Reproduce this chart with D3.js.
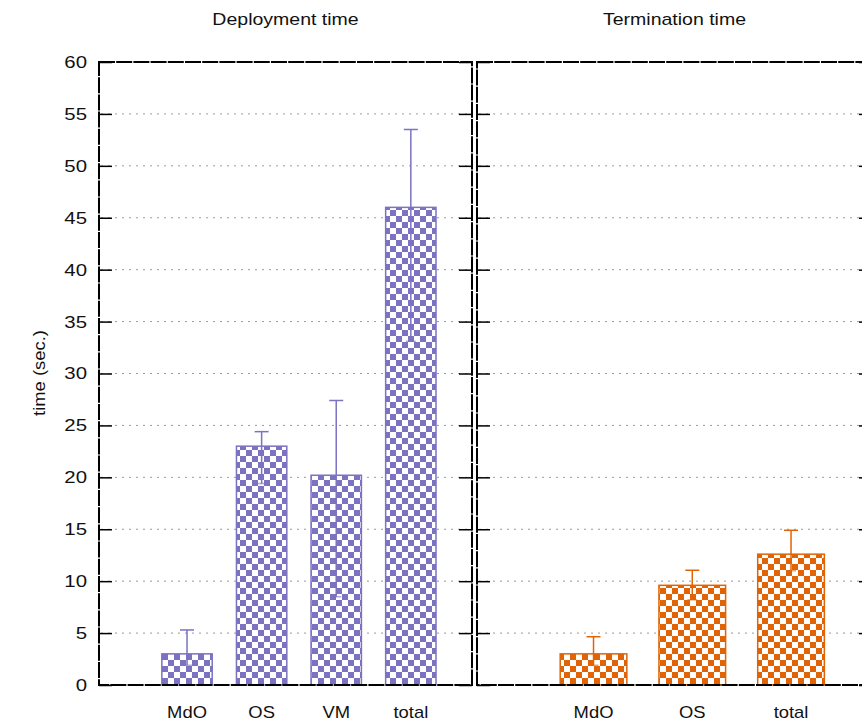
<!DOCTYPE html>
<html>
<head>
<meta charset="utf-8">
<script src="https://cdn.jsdelivr.net/npm/d3@7"></script>
<style>
  body { margin: 0; background: #fff; }
  svg { display: block; font-family: "Liberation Sans", Arial, sans-serif; }
</style>
</head>
<body>
<div id="chart"></div>
<script>
// values
const deployCats = ["MdO", "OS", "VM", "total"];
const deployMean = [3.0, 23.0, 20.2, 46.0];
const deployLow = [1.9, 19.4, 8.5, 33.1];
const deployHigh = [5.3, 24.4, 27.4, 53.5];

const termCats = ["MdO", "OS", "total"];
const termMean = [3.0, 9.6, 12.6];
const termLow = [1.9, 8.2, 11.0];
const termHigh = [4.65, 11.05, 14.9];

const yTicks = [0, 5, 10, 15, 20, 25, 30, 35, 40, 45, 50, 55, 60];

const width = 862;
const height = 722;

const svg = d3.select("#chart")
    .append("svg")
    .attr("width", width)
    .attr("height", height);

const defs = svg.append("defs");

function checker(id, color) {
    const p = defs.append("pattern")
        .attr("id", id)
        .attr("patternUnits", "userSpaceOnUse")
        .attr("width", 12)
        .attr("height", 12);
    p.append("rect").attr("width", 12).attr("height", 12).attr("fill", "#fff");
    p.append("rect").attr("width", 6).attr("height", 6).attr("fill", color);
    p.append("rect").attr("x", 6).attr("y", 6).attr("width", 6).attr("height", 6).attr("fill", color);
}
checker("purpleCheck", "#7b72c2");
checker("orangeCheck", "#e06405");

const yScale = d3.scaleLinear()
    .domain([0, 60])
    .range([685, 62]);

const tickLen = 13;

// the original lettering is a bit wide, so stretch it sideways
function wideText(sel, x, y, size, sx) {
    return sel.append("text")
        .attr("transform", `translate(${x},${y}) scale(${sx},1)`)
        .attr("text-anchor", "middle")
        .attr("font-size", size)
        .attr("fill", "#111");
}

function panel(opts) {
    const { left, right, cats, mean, low, high, color, fill, title, labels } = opts;
    const n = cats.length;
    const xScale = d3.scaleLinear()
        .domain([-0.18, n + 0.82])
        .range([left, right]);
    const bw = (xScale(1) - xScale(0)) * 0.675;

    const g = svg.append("g");

    // grid
    g.append("g")
        .selectAll("line")
        .data(yTicks.filter(t => t > 0 && t < 60))
        .enter()
        .append("line")
        .attr("x1", left + 2)
        .attr("x2", right - 2)
        .attr("y1", d => yScale(d))
        .attr("y2", d => yScale(d))
        .attr("stroke", "#9a9a9a")
        .attr("stroke-width", 1)
        .attr("stroke-dasharray", "2,5");

    // bars
    g.append("g")
        .selectAll("rect")
        .data(mean)
        .enter()
        .append("rect")
        .attr("x", (d, i) => xScale(i + 1) - bw / 2)
        .attr("y", d => yScale(d))
        .attr("width", bw)
        .attr("height", d => yScale(0) - yScale(d))
        .attr("fill", `url(#${fill})`)
        .attr("stroke", color)
        .attr("stroke-width", 1.5);

    // error bars
    const eb = g.append("g")
        .attr("stroke", color)
        .attr("stroke-width", 1.5);
    mean.forEach((m, i) => {
        const cx = xScale(i + 1);
        eb.append("line")
            .attr("x1", cx).attr("x2", cx)
            .attr("y1", yScale(low[i])).attr("y2", yScale(high[i]));
        eb.append("line")
            .attr("x1", cx - 7).attr("x2", cx + 7)
            .attr("y1", yScale(high[i])).attr("y2", yScale(high[i]));
        eb.append("line")
            .attr("x1", cx - 5).attr("x2", cx + 5)
            .attr("y1", yScale(low[i])).attr("y2", yScale(low[i]))
            .attr("stroke-opacity", 0.6);
    });

    // inward ticks on both sides
    const leftAxis = d3.axisLeft(yScale)
        .tickValues(yTicks)
        .tickSizeInner(-tickLen)
        .tickSizeOuter(0)
        .tickPadding(10)
        .tickFormat(labels ? d3.format("d") : "");
    const la = g.append("g")
        .attr("transform", `translate(${left},0)`)
        .call(leftAxis);
    la.select(".domain").remove();
    la.selectAll("line").attr("stroke", "#000").attr("stroke-width", 1.5);
    la.selectAll("text")
        .attr("font-size", 17)
        .attr("fill", "#111")
        .attr("transform", "scale(1.2,1)");

    const rightAxis = d3.axisRight(yScale)
        .tickValues(yTicks)
        .tickSizeInner(-tickLen)
        .tickSizeOuter(0)
        .tickFormat("");
    const ra = g.append("g")
        .attr("transform", `translate(${right},0)`)
        .call(rightAxis);
    ra.select(".domain").remove();
    ra.selectAll("line").attr("stroke", "#000").attr("stroke-width", 1.5);

    // frame
    g.append("rect")
        .attr("x", left)
        .attr("y", yScale(60))
        .attr("width", right - left)
        .attr("height", yScale(0) - yScale(60))
        .attr("fill", "none")
        .attr("stroke", "#000")
        .attr("stroke-width", 2)
        .attr("stroke-dasharray", "16,1.2");

    // category labels
    cats.forEach((c, i) => {
        wideText(g, xScale(i + 1), 718, 16, 1.15).text(c);
    });

    // title
    wideText(g, (left + right) / 2, 25, 16, 1.22).text(title);
}

panel({
    left: 99, right: 472,
    cats: deployCats, mean: deployMean, low: deployLow, high: deployHigh,
    color: "#7b72c2", fill: "purpleCheck",
    title: "Deployment time", labels: true
});

panel({
    left: 477, right: 872,
    cats: termCats, mean: termMean, low: termLow, high: termHigh,
    color: "#e06405", fill: "orangeCheck",
    title: "Termination time", labels: false
});

// y axis title
svg.append("text")
    .attr("transform", "translate(45,373) rotate(-90) scale(1.15,1)")
    .attr("text-anchor", "middle")
    .attr("font-size", 16)
    .attr("fill", "#111")
    .text("time (sec.)");
</script>
</body>
</html>
